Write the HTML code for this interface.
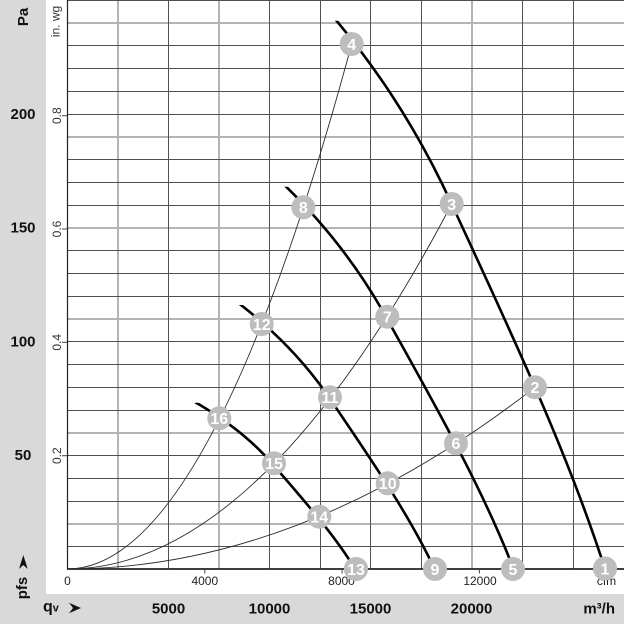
<!DOCTYPE html>
<html><head><meta charset="utf-8"><style>
html,body{margin:0;padding:0;background:#fff;}
svg{display:block;font-family:"Liberation Sans",Arial,sans-serif;}
</style></head><body>
<svg width="624" height="624" viewBox="0 0 624 624" xmlns="http://www.w3.org/2000/svg">
<rect x="0" y="0" width="624" height="624" fill="#fff"/>
<rect x="0" y="0" width="46" height="624" fill="#d9d9d9"/>
<rect x="0" y="594" width="624" height="30" fill="#d9d9d9"/>

<!-- light grid lines -->
<g stroke="#b4b4b4" stroke-width="2" fill="none">
<line x1="67" y1="524" x2="624" y2="524"/>
<line x1="67" y1="433" x2="624" y2="433"/>
<line x1="67" y1="319" x2="624" y2="319"/>
<line x1="67" y1="228" x2="624" y2="228"/>
<line x1="67" y1="137" x2="624" y2="137"/>
<line x1="67" y1="23" x2="624" y2="23"/>
<line x1="118" y1="0" x2="118" y2="569"/>
<line x1="219" y1="0" x2="219" y2="569"/>
<line x1="472" y1="0" x2="472" y2="569"/>
</g>
<!-- dark grid lines -->
<g stroke="#505050" stroke-width="1" fill="none">
<line x1="67" y1="546.5" x2="624" y2="546.5"/>
<line x1="67" y1="501.5" x2="624" y2="501.5"/>
<line x1="67" y1="478.5" x2="624" y2="478.5"/>
<line x1="67" y1="455.5" x2="624" y2="455.5"/>
<line x1="67" y1="410.5" x2="624" y2="410.5"/>
<line x1="67" y1="387.5" x2="624" y2="387.5"/>
<line x1="67" y1="364.5" x2="624" y2="364.5"/>
<line x1="67" y1="341.5" x2="624" y2="341.5"/>
<line x1="67" y1="296.5" x2="624" y2="296.5"/>
<line x1="67" y1="273.5" x2="624" y2="273.5"/>
<line x1="67" y1="250.5" x2="624" y2="250.5"/>
<line x1="67" y1="205.5" x2="624" y2="205.5"/>
<line x1="67" y1="182.5" x2="624" y2="182.5"/>
<line x1="67" y1="159.5" x2="624" y2="159.5"/>
<line x1="67" y1="114.5" x2="624" y2="114.5"/>
<line x1="67" y1="91.5" x2="624" y2="91.5"/>
<line x1="67" y1="68.5" x2="624" y2="68.5"/>
<line x1="67" y1="45.5" x2="624" y2="45.5"/>
<line x1="67" y1="0.5" x2="624" y2="0.5"/>
<line x1="168.5" y1="0" x2="168.5" y2="569"/>
<line x1="269.5" y1="0" x2="269.5" y2="569"/>
<line x1="320.5" y1="0" x2="320.5" y2="569"/>
<line x1="370.5" y1="0" x2="370.5" y2="569"/>
<line x1="421.5" y1="0" x2="421.5" y2="569"/>
<line x1="522.5" y1="0" x2="522.5" y2="569"/>
<line x1="573.5" y1="0" x2="573.5" y2="569"/>
</g>
<!-- axes -->
<g stroke="#222" fill="none">
<line x1="67.5" y1="0" x2="67.5" y2="569.5" stroke-width="1.2"/>
<line x1="67" y1="569" x2="624" y2="569" stroke-width="1.8"/>
</g>
<!-- in.wg ticks -->
<g stroke="#444" stroke-width="1">
<line x1="62" y1="455.7" x2="67" y2="455.7"/>
<line x1="62" y1="342.3" x2="67" y2="342.3"/>
<line x1="62" y1="229" x2="67" y2="229"/>
<line x1="62" y1="115.7" x2="67" y2="115.7"/>
<line x1="204.8" y1="569" x2="204.8" y2="573.5"/>
<line x1="342.1" y1="569" x2="342.1" y2="573.5"/>
<line x1="479.4" y1="569" x2="479.4" y2="573.5"/>
</g>

<!-- system parabolas -->
<g stroke="#2a2a2a" stroke-width="0.9" fill="none">
<path d="M67.5,569 Q209.6,569 351.7,44"/>
<path d="M67.5,569 Q259.6,569 451.7,204"/>
<path d="M67.5,569 Q301.25,569 535,387.3"/>
</g>

<defs>
<clipPath id="cA"><rect x="0" y="20.7" width="624" height="600"/></clipPath>
<clipPath id="cB"><rect x="0" y="186.7" width="624" height="450"/></clipPath>
<clipPath id="cC"><rect x="0" y="305" width="624" height="350"/></clipPath>
<clipPath id="cD"><rect x="0" y="402.7" width="624" height="250"/></clipPath>
</defs>
<!-- fan curves -->
<g stroke="#000" stroke-width="2.6" fill="none" stroke-linecap="butt">
<path clip-path="url(#cA)" d="M306,-14 C373.4,58.67 418.3,131.33 451.7,204 C507.7,325.7 565.9,447.3 605,569"/>
<path clip-path="url(#cB)" d="M265.5,167.4 C321.4,217.4 358.7,267.5 386.4,317.6 C432.9,401.4 481.2,485.2 513.6,569"/>
<path clip-path="url(#cC)" d="M230.4,297 C276.4,330.9 307.1,364.8 329.9,398.7 C368.2,455.5 407.9,512.2 434.6,569"/>
<path clip-path="url(#cD)" d="M195.1,402.1 C231.2,422.9 255.2,443.7 273,464.5 C303,499.4 334.1,534.2 355.1,569"/>
</g>

<!-- bubbles -->
<g fill="#bdbdbd">
<circle cx="605" cy="568.5" r="12"/>
<circle cx="535" cy="387.3" r="12"/>
<circle cx="451.7" cy="204" r="12"/>
<circle cx="351.7" cy="44" r="12"/>
<circle cx="513" cy="569" r="12"/>
<circle cx="456" cy="443.3" r="12"/>
<circle cx="387.3" cy="316.7" r="12"/>
<circle cx="303.3" cy="207.3" r="12"/>
<circle cx="435" cy="569" r="12"/>
<circle cx="387.7" cy="483.3" r="12"/>
<circle cx="330" cy="397.3" r="12"/>
<circle cx="261.7" cy="324" r="12"/>
<circle cx="356" cy="569" r="12"/>
<circle cx="319.3" cy="516.7" r="12"/>
<circle cx="274" cy="463.3" r="12"/>
<circle cx="219.3" cy="418.3" r="12"/>
</g>
<g fill="#fff" font-weight="bold" font-size="16" text-anchor="middle">
<text x="605" y="574.3">1</text>
<text x="535" y="393.1">2</text>
<text x="451.7" y="209.8">3</text>
<text x="351.7" y="49.8">4</text>
<text x="513" y="574.8">5</text>
<text x="456" y="449.1">6</text>
<text x="387.3" y="322.5">7</text>
<text x="303.3" y="213.1">8</text>
<text x="435" y="574.8">9</text>
<text x="387.7" y="489.1">10</text>
<text x="330" y="403.1">11</text>
<text x="261.7" y="329.8">12</text>
<text x="356" y="574.8">13</text>
<text x="319.3" y="522.5">14</text>
<text x="274" y="469.1">15</text>
<text x="219.3" y="424.1">16</text>
</g>

<!-- Pa labels -->
<g fill="#111" font-weight="bold" font-size="15" text-anchor="middle">
<text x="23" y="119">200</text>
<text x="23" y="232.7">150</text>
<text x="23" y="346.5">100</text>
<text x="23" y="460.2">50</text>
<text transform="translate(28,17) rotate(-90)">Pa</text>
<text transform="translate(27,588) rotate(-90)">pfs</text>
<text x="168.5" y="613.3">5000</text>
<text x="269.5" y="613.3">10000</text>
<text x="370.5" y="613.3">15000</text>
<text x="471.5" y="613.3">20000</text>
<text x="615" y="613.3" text-anchor="end">m³/h</text>
<text x="43" y="611.5" text-anchor="start" font-size="16">q<tspan font-size="11">v</tspan></text>
</g>
<polygon points="23.3,555 27.7,569 23.3,565 19,569" fill="#111"/>
<polygon points="81,608 69,602.7 73,608 69,613.3" fill="#111"/>

<!-- in. wg labels -->
<g fill="#333" font-size="12" text-anchor="middle">
<text transform="translate(61,115.7) rotate(-90)">0.8</text>
<text transform="translate(61,229) rotate(-90)">0.6</text>
<text transform="translate(61,342.3) rotate(-90)">0.4</text>
<text transform="translate(61,455.7) rotate(-90)">0.2</text>
<text transform="translate(59.5,21.5) rotate(-90)">in. wg</text>
</g>
<!-- cfm labels -->
<g fill="#222" font-size="12" text-anchor="middle">
<text x="67.5" y="585">0</text>
<text x="204.8" y="585">4000</text>
<text x="341.5" y="585">8000</text>
<text x="480" y="585">12000</text>
<text x="606.5" y="585">cfm</text>
</g>
<!-- bubbles over bottom labels where overlapping -->
<circle cx="356" cy="569" r="12" fill="#bdbdbd"/>
<text x="356" y="574.8" fill="#fff" font-weight="bold" font-size="16" text-anchor="middle">13</text>
<circle cx="605" cy="568.5" r="12" fill="#bdbdbd"/>
<text x="605" y="574.3" fill="#fff" font-weight="bold" font-size="16" text-anchor="middle">1</text>
</svg>
</body></html>
